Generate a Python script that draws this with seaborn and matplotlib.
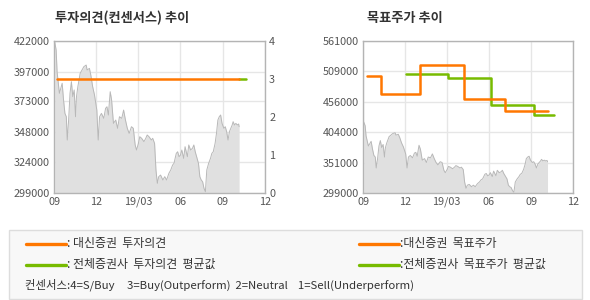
import matplotlib
matplotlib.use("Agg")
import matplotlib.pyplot as plt
import seaborn as sns
import pandas as pd
from matplotlib.lines import Line2D
from matplotlib.patches import Rectangle

sns.set_theme(style="white")
plt.rcParams['font.family'] = ['Noto Sans CJK KR', 'DejaVu Sans']

# ---- data ----
price_dates = [
    "2018-09-02", "2018-09-05", "2018-09-07", "2018-09-12", "2018-09-15", "2018-09-18",
    "2018-09-21", "2018-09-24", "2018-09-27", "2018-09-29", "2018-10-02", "2018-10-05",
    "2018-10-08", "2018-10-11", "2018-10-14", "2018-10-17", "2018-10-19", "2018-10-22",
    "2018-10-27", "2018-10-31", "2018-11-04", "2018-11-09", "2018-11-11", "2018-11-16",
    "2018-11-19", "2018-11-23", "2018-11-27", "2018-12-02", "2018-12-05", "2018-12-08",
    "2018-12-12", "2018-12-17", "2018-12-21", "2018-12-24", "2018-12-27", "2018-12-31",
    "2019-01-03", "2019-01-07", "2019-01-12", "2019-01-16", "2019-01-20", "2019-01-25",
    "2019-01-29", "2019-02-02", "2019-02-06", "2019-02-10", "2019-02-15", "2019-02-19",
    "2019-02-23", "2019-02-26", "2019-03-02", "2019-03-05", "2019-03-09", "2019-03-14",
    "2019-03-18", "2019-03-21", "2019-03-25", "2019-03-30", "2019-04-02", "2019-04-06",
    "2019-04-09", "2019-04-12", "2019-04-15", "2019-04-19", "2019-04-24", "2019-04-28",
    "2019-05-02", "2019-05-07", "2019-05-11", "2019-05-15", "2019-05-18", "2019-05-23",
    "2019-05-26", "2019-05-29", "2019-06-01", "2019-06-04", "2019-06-08", "2019-06-11",
    "2019-06-16", "2019-06-19", "2019-06-23", "2019-06-27", "2019-06-30", "2019-07-03",
    "2019-07-06", "2019-07-10", "2019-07-13", "2019-07-16", "2019-07-19", "2019-07-22",
    "2019-07-25", "2019-07-28", "2019-08-01", "2019-08-05", "2019-08-08", "2019-08-11",
    "2019-08-15", "2019-08-18", "2019-08-21", "2019-08-24", "2019-08-27", "2019-08-30",
    "2019-09-03", "2019-09-06", "2019-09-09", "2019-09-12", "2019-09-15", "2019-09-18",
    "2019-09-21", "2019-09-23", "2019-09-26", "2019-09-29", "2019-10-02", "2019-10-05",
    "2019-10-06",
]
price_values = [
    421000, 414700, 397100, 379600, 383600, 387700,
    374200, 363300, 360600, 341700, 357900, 379600,
    389000, 376900, 382300, 360600, 376900, 385000,
    395800, 398500, 401200, 402500, 398500, 399800,
    394400, 385000, 378200, 366000, 341700, 360600,
    363300, 359300, 367400, 368700, 362000, 380900,
    374200, 355200, 357900, 351200, 360600, 359300,
    366000, 357900, 351200, 347100, 352500, 351200,
    337700, 333600, 339000, 344400, 343100, 340400,
    343100, 345800, 344400, 341700, 343100, 339000,
    317400, 306600, 312000, 313300, 309300, 312000,
    309300, 314700, 317400, 321400, 322800, 330900,
    332200, 328200, 329500, 333600, 326800, 336300,
    328200, 337700, 333600, 335000, 337700, 332200,
    328200, 322800, 312000, 309300, 307900, 302500,
    299800, 317400, 322800, 326800, 330900, 332200,
    339000, 347100, 357900, 360600, 362000, 355200,
    351200, 352500, 348500, 341700, 348500, 351200,
    353900, 356600, 353900, 355200, 353900, 354700,
    352500,
]

# consensus (investment opinion, 4-level scale)
opinion_dates = ["2018-09-07", "2019-10-06"]
opinion_values = [3, 3]
avg_opinion_dates = ["2019-10-06", "2019-10-20"]
avg_opinion_values = [3, 3]

# target prices (step series)
target_dates = ["2018-09-08", "2018-10-09", "2019-01-03", "2019-04-08", "2019-07-05", "2019-10-06"]
target_values = [500000, 470000, 520000, 460000, 440000, 440000]
avg_target_dates = ["2018-12-02", "2019-03-03", "2019-06-05", "2019-09-06", "2019-10-20"]
avg_target_values = [504000, 497000, 450000, 433000, 433000]

left_yticks = [299000, 324000, 348000, 373000, 397000, 422000]
right_yticks = [299000, 351000, 404000, 456000, 509000, 561000]
x_tick_dates = ["2018-09-01", "2018-12-01", "2019-03-01", "2019-06-01", "2019-09-01", "2019-12-01"]
x_tick_labels = ["09", "12", "19/03", "06", "09", "12"]

titles = ["투자의견(컨센서스) 추이", "목표주가 추이"]
legend_labels = [": 대신증권  투자의견", ": 전체증권사  투자의견  평균값",
                 ":대신증권  목표주가", ":전체증권사  목표주가  평균값"]
consensus_note = "컨센서스:4=S/Buy     3=Buy(Outperform)  2=Neutral    1=Sell(Underperform)"

ORANGE = "#ff7700"
GREEN = "#77bb00"
AREA = "#e0e0e0"
AREA_EDGE = "#b8b8b8"
GRID = "#e6e6e6"
SPINE = "#b4b4b4"
TICK = "#555555"

price = pd.DataFrame({"date": pd.to_datetime(price_dates), "price": price_values})
xt = pd.to_datetime(x_tick_dates)

fig = plt.figure(figsize=(5.9, 3.0), dpi=100)
fig.patch.set_facecolor("white")
ax1 = fig.add_axes([54.3 / 590, 1 - 192.7 / 300, 210.7 / 590, 151.7 / 300])
ax2 = fig.add_axes([363.3 / 590, 1 - 192.7 / 300, 210.0 / 590, 151.7 / 300])


def style_axes(ax, yticks):
    ax.set_xlim(xt[0], xt[-1])
    ax.set_ylim(yticks[0], yticks[-1])
    ax.set_xticks(xt)
    ax.set_xticklabels(x_tick_labels)
    ax.set_yticks(yticks)
    ax.set_yticklabels([str(v) for v in yticks])
    ax.grid(True, color=GRID, linewidth=1.0)
    ax.set_axisbelow(True)
    for s in ax.spines.values():
        s.set_color(SPINE)
        s.set_linewidth(1.0)
    ax.tick_params(axis="both", labelsize=7.8, colors=TICK, length=0, pad=3)
    ax.set_xlabel("")
    ax.set_ylabel("")


def draw_price(ax, base):
    ax.fill_between(price["date"], base, price["price"], color=AREA, linewidth=0, zorder=1)
    sns.lineplot(data=price, x="date", y="price", ax=ax, color=AREA_EDGE, linewidth=0.7, zorder=2)


# ---- left chart ----
draw_price(ax1, left_yticks[0])
style_axes(ax1, left_yticks)
ax1r = ax1.twinx()
op = pd.DataFrame({"date": pd.to_datetime(opinion_dates), "v": opinion_values})
aop = pd.DataFrame({"date": pd.to_datetime(avg_opinion_dates), "v": avg_opinion_values})
sns.lineplot(data=aop, x="date", y="v", ax=ax1r, color=GREEN, linewidth=1.8)
sns.lineplot(data=op, x="date", y="v", ax=ax1r, color=ORANGE, linewidth=1.8)
ax1r.set_xlim(xt[0], xt[-1])
ax1r.set_ylim(0, 4)
ax1r.set_yticks([0, 1, 2, 3, 4])
ax1r.tick_params(axis="y", labelsize=7.8, colors=TICK, length=0, pad=3)
for s in ax1r.spines.values():
    s.set_visible(False)
ax1r.set_ylabel("")
ax1r.set_xlabel("")

# ---- right chart ----
draw_price(ax2, right_yticks[0])
style_axes(ax2, right_yticks)
tg = pd.DataFrame({"date": pd.to_datetime(target_dates), "v": target_values})
atg = pd.DataFrame({"date": pd.to_datetime(avg_target_dates), "v": avg_target_values})
sns.lineplot(data=atg, x="date", y="v", ax=ax2, color=GREEN, linewidth=1.8,
             drawstyle="steps-post", zorder=3)
sns.lineplot(data=tg, x="date", y="v", ax=ax2, color=ORANGE, linewidth=1.8,
             drawstyle="steps-post", zorder=4)
ax2.set_ylabel("")
ax2.set_xlabel("")

# ---- titles ----
fig.text(55 / 590, 1 - 18 / 300, titles[0], fontsize=9.5, fontweight="bold",
         color="#333333", va="center", ha="left")
fig.text(367 / 590, 1 - 18 / 300, titles[1], fontsize=9.5, fontweight="bold",
         color="#333333", va="center", ha="left")

# ---- legend box ----
box = Rectangle((8.5 / 590, 1 - 298.5 / 300), 573.5 / 590, 69 / 300, transform=fig.transFigure,
                facecolor="#f8f8f8", edgecolor="#dddddd", linewidth=1.0)
fig.patches.append(box)

rows_y = [243.5, 264.5]
for i, (col_x0, col_x1, tx) in enumerate([(25.7, 66, 67), (358.5, 399, 400)]):
    for j, c in enumerate([ORANGE, GREEN]):
        y = 1 - rows_y[j] / 300
        fig.add_artist(Line2D([col_x0 / 590, col_x1 / 590], [y, y], color=c, linewidth=2.4,
                              transform=fig.transFigure))
        fig.text(tx / 590, y, legend_labels[i * 2 + j], fontsize=8.6, color="#333333",
                 va="center", ha="left")
fig.text(25 / 590, 1 - 285 / 300, consensus_note, fontsize=8.2, color="#333333",
         va="center", ha="left")

fig.savefig("out.png", dpi=100, facecolor="white")
